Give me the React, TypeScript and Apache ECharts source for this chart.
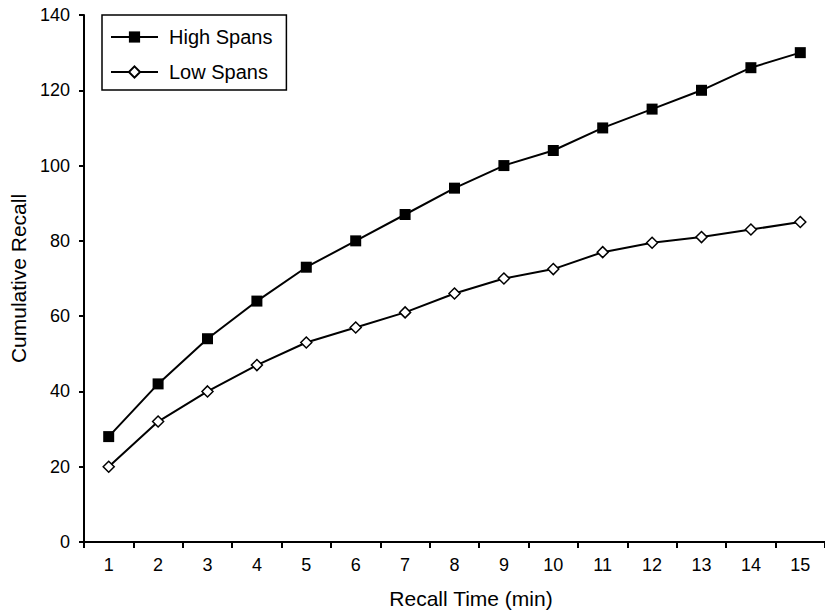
import React, { useEffect, useRef } from "react";
import * as echarts from "echarts";

const minutes = ["1", "2", "3", "4", "5", "6", "7", "8", "9", "10", "11", "12", "13", "14", "15"];
const highSpans = [28, 42, 54, 64, 73, 80, 87, 94, 100, 104, 110, 115, 120, 126, 130];
const lowSpans = [20, 32, 40, 47, 53, 57, 61, 66, 70, 72.5, 77, 79.5, 81, 83, 85];

const FONT = "'Liberation Sans', Arial, Helvetica, sans-serif";

export default function App() {
  const ref = useRef<HTMLDivElement>(null);
  useEffect(() => {
    if (!ref.current) return;
    const chart = echarts.init(ref.current, undefined, { renderer: "svg" });
    chart.setOption({
      animation: false,
      backgroundColor: "#ffffff",
      textStyle: { fontFamily: FONT, color: "#000" },
      grid: { left: 81, right: 0, top: 15, bottom: 70, containLabel: false },
      legend: {
        left: 102,
        top: 15,
        orient: "vertical",
        borderColor: "#000",
        borderWidth: 1.5,
        padding: [12, 14, 8, 8],
        itemWidth: 47,
        itemHeight: 14,
        itemGap: 15,
        textStyle: { fontFamily: FONT, fontSize: 20, color: "#000", padding: [0, 0, 0, 6] },
        data: ["High Spans", "Low Spans"],
      },
      xAxis: {
        type: "category",
        data: minutes,
        boundaryGap: true,
        name: "Recall Time (min)",
        nameLocation: "middle",
        nameGap: 46,
        nameTextStyle: { fontFamily: FONT, fontSize: 21, color: "#000", padding: [0, 0, 0, 33] },
        axisLine: { lineStyle: { color: "#000", width: 2 } },
        axisTick: { show: true, alignWithLabel: false, length: 6, lineStyle: { color: "#000", width: 2 } },
        axisLabel: { fontFamily: FONT, fontSize: 18, color: "#000", margin: 14 },
        splitLine: { show: false },
      },
      yAxis: {
        type: "value",
        min: 0,
        max: 140,
        interval: 20,
        name: "Cumulative Recall",
        nameLocation: "middle",
        nameRotate: 90,
        nameGap: 55,
        nameTextStyle: { fontFamily: FONT, fontSize: 21, color: "#000" },
        axisLine: { show: true, lineStyle: { color: "#000", width: 2 } },
        axisTick: { show: true, length: 5, lineStyle: { color: "#000", width: 2 } },
        axisLabel: { fontFamily: FONT, fontSize: 18, color: "#000", margin: 14 },
        splitLine: { show: false },
      },
      series: [
        {
          name: "High Spans",
          type: "line",
          data: highSpans,
          symbol: "rect",
          symbolSize: 11,
          itemStyle: { color: "#000", borderColor: "#000", borderWidth: 0 },
          lineStyle: { color: "#000", width: 2 },
        },
        {
          name: "Low Spans",
          type: "line",
          data: lowSpans,
          symbol: "diamond",
          symbolSize: 11,
          itemStyle: { color: "#fff", borderColor: "#000", borderWidth: 1.5 },
          lineStyle: { color: "#000", width: 2 },
        },
      ],
    });
    return () => chart.dispose();
  }, []);
  return (
    <div
      ref={ref}
      style={{ position: "fixed", left: 0, top: 0, width: 825, height: 614, background: "#fff" }}
    />
  );
}
